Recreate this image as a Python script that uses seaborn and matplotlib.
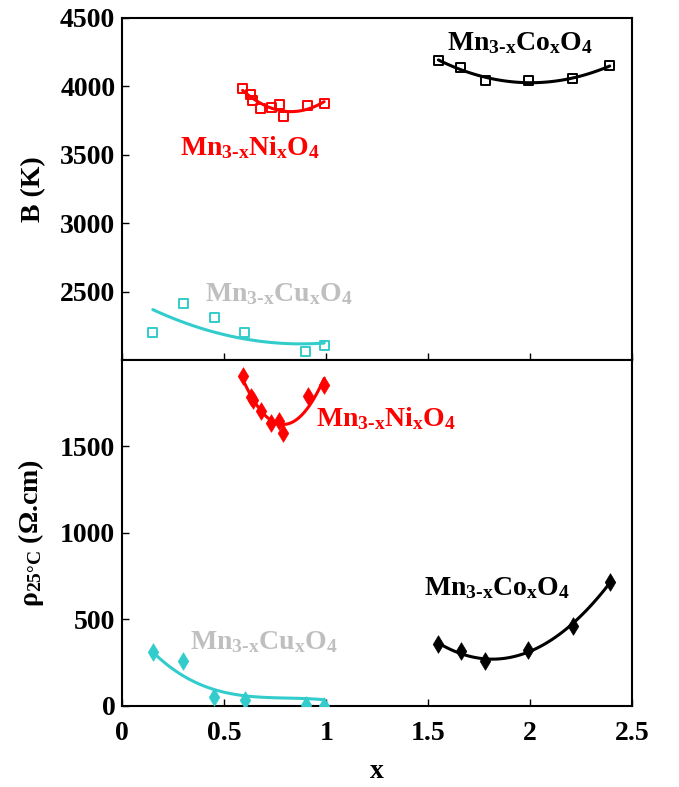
import numpy as np
import pandas as pd
import matplotlib
matplotlib.use("Agg")
import matplotlib.pyplot as plt
import seaborn as sns

# values
x_co = [1.55, 1.66, 1.78, 1.99, 2.21, 2.39]
B_co = [4189, 4141, 4041, 4043, 4055, 4150]
rho_co = [358, 315, 261, 324, 464, 716]

x_ni = [0.59, 0.63, 0.64, 0.68, 0.73, 0.77, 0.79, 0.91, 0.99]
B_ni = [3985, 3941, 3893, 3839, 3849, 3864, 3783, 3861, 3873]
rho_ni = [1910, 1788, 1771, 1707, 1638, 1649, 1580, 1794, 1858]

x_cu = [0.15, 0.30, 0.45, 0.60, 0.90, 0.99]
B_cu = [2204, 2415, 2307, 2204, 2065, 2107]
rho_cu = [313, 262, 50, 35, 8, 2]

# the Cu trend lines in the reference do not follow a plain fit of the
# points, so read them off the picture too
x_cu_fit = [0.15, 0.28, 0.37, 0.45, 0.60, 0.85, 0.99]
B_cu_fit = [2364, 2290, 2245, 2205, 2146, 2120, 2124]
rho_cu_fit = [308, 198, 131, 83, 64, 45, 35]

sns.set_style("ticks")
plt.rcParams['font.family'] = ['Liberation Serif', 'DejaVu Serif']
plt.rcParams['font.weight'] = 'bold'
plt.rcParams['mathtext.fontset'] = 'custom'
plt.rcParams['mathtext.rm'] = 'Liberation Serif:bold'
plt.rcParams['mathtext.it'] = 'Liberation Serif:bold'
plt.rcParams['mathtext.bf'] = 'Liberation Serif:bold'
for k in ['text.color', 'axes.labelcolor', 'xtick.color', 'ytick.color', 'axes.edgecolor']:
    plt.rcParams[k] = 'black'

RED = '#FF0000'
CYAN = '#33CCCC'
GREY = '#BFBFBF'
BLACK = '#000000'

fig = plt.figure(figsize=(6.79, 7.87), dpi=100)
ax1 = fig.add_axes([0.18, 0.5426, 0.751, 0.4346])
ax2 = fig.add_axes([0.18, 0.103, 0.751, 0.4396])

line_kw = {'lw': 2.2}

# Co and Ni: quadratic fits of the points
for xs, bs, rs, col in [(x_co, B_co, rho_co, BLACK), (x_ni, B_ni, rho_ni, RED)]:
    sns.regplot(x=xs, y=bs, order=2, ci=None, scatter=False, ax=ax1,
                color=col, line_kws=line_kw)
    sns.regplot(x=xs, y=rs, order=2, ci=None, scatter=False, ax=ax2,
                color=col, line_kws=line_kw)

# Cu: smooth curves through the trend values
sns.regplot(x=x_cu_fit, y=B_cu_fit, order=2, ci=None, scatter=False, ax=ax1,
            color=CYAN, line_kws=line_kw)
sns.regplot(x=x_cu_fit, y=rho_cu_fit, order=3, ci=None, scatter=False, ax=ax2,
            color=CYAN, line_kws=line_kw)

for xs, bs, rs, col in [(x_co, B_co, rho_co, BLACK), (x_ni, B_ni, rho_ni, RED),
                        (x_cu, B_cu, rho_cu, CYAN)]:
    sns.scatterplot(x=xs, y=bs, ax=ax1, marker='s', s=42, facecolors='none',
                    edgecolor=col, color=col, linewidth=1.4, zorder=3)
    sns.scatterplot(x=xs, y=rs, ax=ax2, marker='d', s=80, color=col,
                    edgecolor=col, linewidth=0.5, zorder=3)

def formula(el):
    return r'Mn$_{\text{3-x}}$' + el + r'$_{\text{x}}$O$_{\text{4}}$'

lab_kw = dict(fontsize=20, fontweight='bold', ha='left', va='center')
ax1.text(1.59, 4318, formula('Co'), color=BLACK, **lab_kw)
ax1.text(0.284, 3552, formula('Ni'), color=RED, **lab_kw)
ax1.text(0.407, 2481, formula('Cu'), color=GREY, **lab_kw)
ax2.text(0.951, 1661, formula('Ni'), color=RED, **lab_kw)
ax2.text(1.48, 683, formula('Co'), color=BLACK, **lab_kw)
ax2.text(0.333, 370, formula('Cu'), color=GREY, **lab_kw)

xt = [0, 0.5, 1, 1.5, 2, 2.5]
for ax in (ax1, ax2):
    ax.set_xlim(0, 2.5)
    ax.set_xticks(xt)
    for s in ax.spines.values():
        s.set_visible(True)
        s.set_linewidth(1.5)
    ax.tick_params(direction='in', length=5, width=1, labelsize=20)
    ax.tick_params(axis='y', pad=5)
    ax.tick_params(axis='x', pad=11)

ax1.set_ylim(2000, 4500)
ax1.set_yticks([2500, 3000, 3500, 4000, 4500])
ax1.set_xticklabels([])
ax1.set_ylabel('B (K)', fontsize=20, fontweight='bold')

ax2.set_ylim(0, 2000)
ax2.set_yticks([0, 500, 1000, 1500])
ax2.set_xticklabels(['0', '0.5', '1', '1.5', '2', '2.5'])
ax2.set_ylabel(r'ρ$_{\text{25°C}}$ (Ω.cm)', fontsize=20, fontweight='bold')
ax2.set_xlabel('x', fontsize=20, fontweight='bold', labelpad=9)

for lab in ax1.get_yticklabels() + ax2.get_yticklabels() + ax2.get_xticklabels():
    lab.set_fontweight('bold')

ax1.yaxis.set_label_coords(-0.15, 0.5)
ax2.yaxis.set_label_coords(-0.15, 0.5)

fig.savefig('out.png', dpi=100, facecolor='white')
